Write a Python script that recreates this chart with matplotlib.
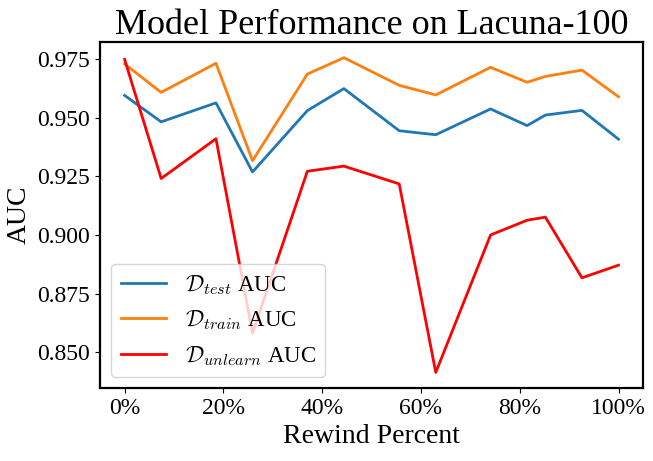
import numpy as np
import matplotlib
matplotlib.use("Agg")
import matplotlib.pyplot as plt
from matplotlib.ticker import PercentFormatter

# rewind percent (points at k/27)
rewind = [0, 7.4, 18.5, 25.9, 37.0, 44.4, 55.6, 63.0, 74.1, 81.5, 85.2, 92.6, 100]

test_auc = [0.9596, 0.9483, 0.9564, 0.9269, 0.9531, 0.9625, 0.9445,
            0.9428, 0.9538, 0.9467, 0.9512, 0.9532, 0.9409]
train_auc = [0.9730, 0.9609, 0.9733, 0.9317, 0.9687, 0.9757, 0.9639,
             0.9598, 0.9716, 0.9652, 0.9677, 0.9704, 0.9590]
unlearn_auc = [0.9750, 0.9241, 0.9411, 0.8581, 0.9272, 0.9294, 0.9218,
               0.8413, 0.9000, 0.9063, 0.9076, 0.8817, 0.8871]

plt.rcParams['font.family'] = ['Liberation Serif', 'DejaVu Serif']
plt.rcParams['mathtext.fontset'] = 'cm'

fig, ax = plt.subplots(figsize=(6.53, 4.61), dpi=100)
fig.subplots_adjust(left=0.153, right=0.985, top=0.909, bottom=0.158)

ax.plot(rewind, test_auc, color='tab:blue', lw=2, label=r'$\mathcal{D}_{test}$ AUC')
ax.plot(rewind, train_auc, color='tab:orange', lw=2, label=r'$\mathcal{D}_{train}$ AUC')
ax.plot(rewind, unlearn_auc, color='red', lw=2, label=r'$\mathcal{D}_{unlearn}$ AUC')

ax.xaxis.set_major_formatter(PercentFormatter(decimals=0))
ax.set_yticks([0.850, 0.875, 0.900, 0.925, 0.950, 0.975])
ax.yaxis.set_major_formatter(matplotlib.ticker.FormatStrFormatter('%.3f'))
ax.tick_params(labelsize=17)
for s in ax.spines.values():
    s.set_linewidth(1.6)

ax.set_title('Model Performance on Lacuna-100', fontsize=26)
ax.set_xlabel('Rewind Percent', fontsize=20)
ax.set_ylabel('AUC', fontsize=20)
ax.legend(loc='lower left', fontsize=16.5)

fig.savefig('out.png', dpi=100)
